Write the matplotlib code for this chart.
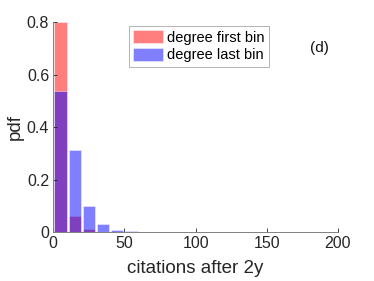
import matplotlib
matplotlib.use("Agg")
import matplotlib.pyplot as plt

# bin centres (citations after 2y) and pdf values
bin_centers = [5, 15, 25, 35, 45, 55, 65, 75]
pdf_first = [0.80, 0.062, 0.0125, 0.003, 0.001, 0.0005, 0.0003, 0.0002]
pdf_last = [0.537, 0.312, 0.099, 0.030, 0.010, 0.005, 0.002, 0.001]

labels = ["degree first bin", "degree last bin"]
xticks = [0, 50, 100, 150, 200]
yticks = [0, 0.2, 0.4, 0.6, 0.8]

plt.rcParams["font.family"] = ["Liberation Sans", "DejaVu Sans"]

fig = plt.figure(figsize=(3.74, 2.81), dpi=100)
ax = fig.add_axes([0.1425, 0.1733, 0.7612, 0.7484])

ax.bar(bin_centers, pdf_first, width=8.6, facecolor=(1, 0, 0, 0.5),
       edgecolor=(1, 1, 1, 0.5), linewidth=0.6, label=labels[0])
ax.bar(bin_centers, pdf_last, width=8.6, facecolor=(0, 0, 1, 0.5),
       edgecolor=(1, 1, 1, 0.5), linewidth=0.6, label=labels[1])

ax.set_xlim(0, 200)
ax.set_ylim(0, 0.8)
ax.set_xticks(xticks)
ax.set_yticks(yticks)
ax.set_yticklabels(["0", "0.2", "0.4", "0.6", "0.8"])
ax.tick_params(direction="in", length=3, width=0.6, labelsize=11.5,
               colors="#262626", pad=3)
for side in ["top", "right"]:
    ax.spines[side].set_visible(False)
for side in ["left", "bottom"]:
    ax.spines[side].set_color("#808080")
    ax.spines[side].set_linewidth(0.7)

ax.set_xlabel("citations after 2y", fontsize=13.5, color="#262626", labelpad=6)
ax.set_ylabel("pdf", fontsize=13.5, color="#262626", labelpad=2)

leg = ax.legend(loc="upper left", bbox_to_anchor=(0.266, 0.981), fontsize=10.5,
                frameon=True, fancybox=False, borderaxespad=0, borderpad=0.3,
                handlelength=2.0, handleheight=1.0, handletextpad=0.3,
                labelspacing=0.2)
leg.get_frame().set_edgecolor("#a0a0a0")
leg.get_frame().set_linewidth(0.7)

ax.text(0.935, 0.875, "(d)", transform=ax.transAxes, fontsize=11,
        ha="center", va="center", color="#111111")

fig.savefig("out.png", dpi=100)
